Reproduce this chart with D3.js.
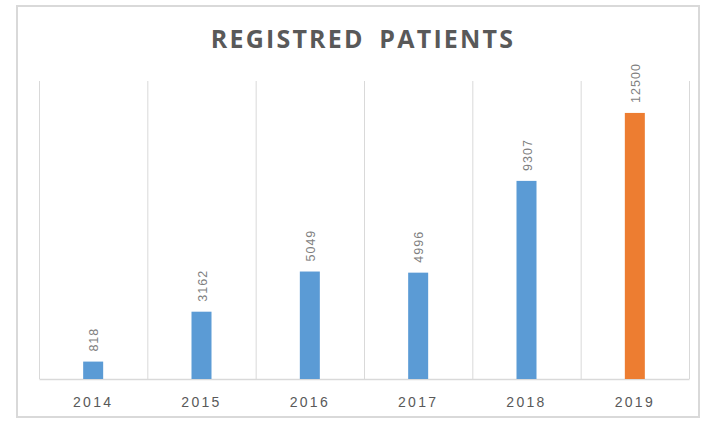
<!DOCTYPE html>
<html>
<head>
<meta charset="utf-8">
<script src="https://cdn.jsdelivr.net/npm/d3@7"></script>
<style>
	body { margin: 0; background: #fff; }
	svg { display: block; }
</style>
</head>
<body>
<div id="chart01"></div>
<script>
var years = ["2014", "2015", "2016", "2017", "2018", "2019"];
var patients = [818, 3162, 5049, 4996, 9307, 12500];
var barColors = ["#5b9bd5", "#5b9bd5", "#5b9bd5", "#5b9bd5", "#5b9bd5", "#ed7d31"];
var yMax = 14000;

var width = 714;
var height = 421;
var margin = { top: 81, right: 25, bottom: 42, left: 39 };

var svg = d3.select("#chart01").append("svg")
	.attr("width", width)
	.attr("height", height);

// outer frame
svg.append("rect")
	.attr("x", 17)
	.attr("y", 6)
	.attr("width", 682)
	.attr("height", 411)
	.attr("fill", "#fff")
	.attr("stroke", "#d9d9d9")
	.attr("stroke-width", 2);

var x = d3.scaleBand()
	.domain(years)
	.range([margin.left, width - margin.right]);

var y = d3.scaleLinear()
	.domain([0, yMax])
	.range([height - margin.bottom, margin.top]);

// vertical gridlines at category edges
var edges = years.map((d) => x(d)).concat([x.range()[1]]);
svg.append("g")
	.selectAll("line")
	.data(edges)
	.join("line")
	.attr("x1", (d) => d + 0.5)
	.attr("x2", (d) => d + 0.5)
	.attr("y1", margin.top)
	.attr("y2", height - margin.bottom)
	.attr("stroke", "#d9d9d9")
	.attr("stroke-width", 1);

// X-axis
var xAxis = svg.append("g")
	.attr("transform", `translate(0, ${height - margin.bottom})`)
	.call(d3.axisBottom(x).tickSize(0).tickPadding(18));
xAxis.select(".domain").attr("stroke", "#d9d9d9").attr("stroke-width", 1.5);
xAxis.selectAll("text")
	.attr("fill", "#595959")
	.style("font-family", "'Liberation Sans', Arial, sans-serif")
	.style("font-size", "14px")
	.style("letter-spacing", "2.3px");

// bars
var barWidth = 20;
svg.append("g")
	.selectAll("rect")
	.data(patients)
	.join("rect")
	.attr("x", (d, i) => x(years[i]) + x.bandwidth() / 2 - barWidth / 2)
	.attr("y", (d) => y(d))
	.attr("width", barWidth)
	.attr("height", (d) => y(0) - y(d))
	.attr("fill", (d, i) => barColors[i]);

// rotated value labels
svg.append("g")
	.selectAll("text")
	.data(patients)
	.join("text")
	.attr("transform", (d, i) => `translate(${x(years[i]) + x.bandwidth() / 2 + 5}, ${y(d) - 10}) rotate(-90)`)
	.attr("text-anchor", "start")
	.attr("fill", "#7f7f7f")
	.style("font-family", "'Liberation Sans', Arial, sans-serif")
	.style("font-size", "12.5px")
	.style("letter-spacing", "1px")
	.text((d) => d);

// title
svg.append("text")
	.attr("x", 363)
	.attr("y", 48)
	.attr("text-anchor", "middle")
	.attr("fill", "#595959")
	.style("font-family", "'Open Sans', 'Liberation Sans', sans-serif")
	.style("font-weight", "bold")
	.style("font-size", "25px")
	.style("letter-spacing", "2.2px")
	.style("word-spacing", "6px")
	.text("REGISTRED PATIENTS");
</script>
</body>
</html>
